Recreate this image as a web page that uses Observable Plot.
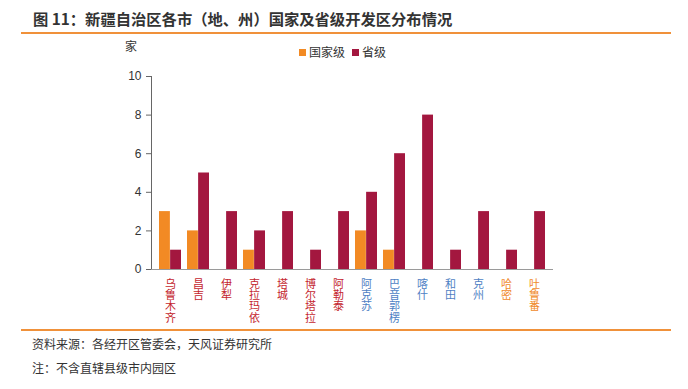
<!DOCTYPE html>
<html>
<head>
<meta charset="utf-8">
<script src="https://cdn.jsdelivr.net/npm/d3@7"></script>
<script src="https://cdn.jsdelivr.net/npm/@observablehq/plot@0.6"></script>
<style>
  html, body { margin: 0; padding: 0; background: #fff; }
  #wrap { position: relative; width: 688px; height: 389px; font-family: "Noto Sans CJK SC", "Noto Sans", sans-serif; color: #333; overflow: hidden; }
  #chart { position: absolute; left: 0; top: 0; }
  .title { position: absolute; left: 33px; top: 7px; font-size: 15.3px; font-weight: bold; color: #333; white-space: nowrap; line-height: 22px; }
  .hr { position: absolute; left: 21px; width: 650px; height: 2px; background: #F0913A; }
  .unit { position: absolute; left: 125px; top: 37px; font-size: 12px; line-height: 18px; }
  .legend { position: absolute; left: 299px; top: 43px; font-size: 12px; line-height: 18px; white-space: nowrap; }
  .legend span.sw { display: inline-block; width: 7px; height: 7px; margin-right: 3px; vertical-align: 1px; }
  .legend span.item { margin-right: 7px; }
  .foot { position: absolute; left: 32px; font-size: 12px; line-height: 18px; white-space: nowrap; color: #333; }
</style>
</head>
<body>
<div id="wrap">
  <div class="title">图 11：新疆自治区各市（地、州）国家及省级开发区分布情况</div>
  <div class="hr" style="top:32px"></div>
  <div id="chart"></div>
  <div class="unit">家</div>
  <div class="legend" id="legend"></div>
  <div class="hr" style="top:329px"></div>
  <div class="foot" style="top:335px">资料来源：各经开区管委会，天风证券研究所</div>
  <div class="foot" style="top:359px">注：不含直辖县级市内园区</div>
</div>
<script>
const cities = ["乌鲁木齐","昌吉","伊犁","克拉玛依","塔城","博尔塔拉","阿勒泰","阿克苏","巴音郭楞","喀什","和田","克州","哈密","吐鲁番"];
const national = [3,2,0,1,0,0,0,2,1,0,0,0,0,0];
const provincial = [1,5,3,2,3,1,3,4,6,8,1,3,1,3];
const regions = ["北疆","北疆","北疆","北疆","北疆","北疆","北疆","南疆","南疆","南疆","南疆","南疆","东疆","东疆"];
const seriesNames = ["国家级","省级"];
const yTicks = [0,2,4,6,8,10];

const seriesColors = {"国家级": "#F28A24", "省级": "#A3173F"};
const regionColors = {"北疆": "#C4262E", "南疆": "#4F7FC4", "东疆": "#F08A2C"};

const rows = cities.map((c, i) => ({city: c, national: national[i], provincial: provincial[i], region: regions[i]}));

const W = 688, H = 330;
const mL = 151, mR = 135, mT = 76, mB = 61;
const xOpts = {domain: cities, paddingInner: 0.22, paddingOuter: 0.16};
const xs = Plot.scale({x: {type: "band", ...xOpts, range: [mL, W - mR]}});
const half = xs.bandwidth / 2;

const chart = Plot.plot({
  width: W, height: H,
  marginLeft: mL, marginRight: mR, marginTop: mT, marginBottom: mB,
  style: {fontFamily: "'Liberation Sans', Arial, sans-serif", fontSize: "12px", color: "#333", background: "transparent", overflow: "visible"},
  x: {...xOpts, axis: null},
  y: {domain: [0, 10], axis: null},
  color: {type: "identity"},
  marks: [
    Plot.barY(rows, {x: "city", y: "national", fill: seriesColors["国家级"], insetRight: half, insetLeft: 0}),
    Plot.barY(rows, {x: "city", y: "provincial", fill: seriesColors["省级"], insetLeft: half, insetRight: 0}),
    Plot.ruleY([0], {stroke: "#9a9a9a", strokeWidth: 1}),
    Plot.axisY({ticks: yTicks, tickSize: 5, tickPadding: 5, label: null, stroke: "#666", fill: "#333", fontSize: 12}),
    Plot.text(rows, {
      x: "city", y: () => 0,
      text: "city",
      textAnchor: "start", dy: 5, fontSize: 11,
      fontFamily: "'Noto Sans CJK SC', sans-serif",
      fill: d => regionColors[d.region],
      ariaLabel: "city-labels"
    })
  ]
});
// stack the category labels vertically, one character under the other
d3.select(chart).selectAll("g[aria-label='city-labels'] text, g[aria-label='text'] text")
  .attr("writing-mode", "tb")
  .style("writing-mode", "vertical-rl")
  .style("letter-spacing", "0.3px")
  .attr("dy", null)
  .attr("text-anchor", "start");
// y-axis line along the left edge of the frame, placed with the plot's own y scale
const ys = chart.scale("y");
d3.select(chart).append("line")
  .attr("x1", mL + 0.5).attr("x2", mL + 0.5)
  .attr("y1", ys.apply(10)).attr("y2", ys.apply(0))
  .attr("stroke", "#666").attr("stroke-width", 1);
document.getElementById("chart").appendChild(chart);

const legend = document.getElementById("legend");
seriesNames.forEach(n => {
  const item = document.createElement("span");
  item.className = "item";
  const sw = document.createElement("span");
  sw.className = "sw";
  sw.style.background = seriesColors[n];
  item.appendChild(sw);
  item.appendChild(document.createTextNode(n));
  legend.appendChild(item);
});
</script>
</body>
</html>
